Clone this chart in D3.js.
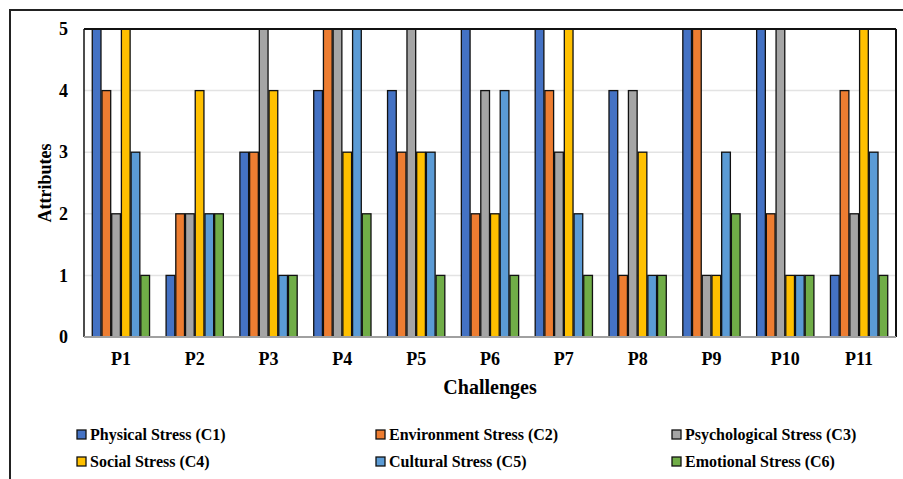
<!DOCTYPE html>
<html><head><meta charset="utf-8">
<script src="https://cdn.jsdelivr.net/npm/d3@7"></script>
<style>body{margin:0;background:#fff}svg{display:block}text{font-family:"Liberation Serif","Times New Roman","DejaVu Serif",serif;font-weight:bold;fill:#000}</style>
</head><body><svg id="c" width="903" height="479"></svg>
<script>
const categories = ["P1","P2","P3","P4","P5","P6","P7","P8","P9","P10","P11"];
const seriesNames = ["Physical Stress (C1)","Environment Stress (C2)","Psychological Stress (C3)","Social Stress (C4)","Cultural Stress (C5)","Emotional Stress (C6)"];
const seriesColors = ["#4472C4","#ED7D31","#A5A5A5","#FFC000","#5B9BD5","#70AD47"];
const c1 = [5,1,3,4,4,5,5,4,5,5,1];
const c2 = [4,2,3,5,3,2,4,1,5,2,4];
const c3 = [2,2,5,5,5,4,3,4,1,5,2];
const c4 = [5,4,4,3,3,2,5,3,1,1,5];
const c5 = [3,2,1,5,3,4,2,1,3,1,3];
const c6 = [1,2,1,2,1,1,1,1,2,1,1];
const yTicks = [0,1,2,3,4,5];
const seriesValues = [c1,c2,c3,c4,c5,c6];
const FONT = '"Liberation Serif","Times New Roman","DejaVu Serif",serif';

const svg = d3.select("#c");
const L=84, R=896, T=29, B=337;
svg.append("rect").attr("x",10).attr("y",10).attr("width",1000).attr("height",1000)
  .attr("fill","none").attr("stroke","#222").attr("stroke-width",2);

const x0 = d3.scaleBand().domain(categories).range([L,R]).padding(0);
const x1 = d3.scaleBand().domain(d3.range(6)).range([0,x0.bandwidth()]).paddingInner(0).paddingOuter(0.8);
const y = d3.scaleLinear().domain([0,5]).range([B,T]);

svg.append("g").selectAll("line").data(yTicks.filter(d=>d>0&&d<5)).join("line")
  .attr("x1",L).attr("x2",R).attr("y1",d=>y(d)).attr("y2",d=>y(d))
  .attr("stroke","#e3e3e3").attr("stroke-width",1.5);

const g = svg.append("g");
categories.forEach((cat,i)=>{
  seriesValues.forEach((vals,s)=>{
    g.append("rect")
      .attr("x",x0(cat)+x1(s)+0.5).attr("y",y(vals[i]))
      .attr("width",x1.bandwidth()-1).attr("height",B-y(vals[i]))
      .attr("fill",seriesColors[s]).attr("stroke","#111").attr("stroke-width",1.3);
  });
});

svg.append("line").attr("x1",L).attr("x2",R).attr("y1",T).attr("y2",T).attr("stroke","#111").attr("stroke-width",2);
svg.append("line").attr("x1",L).attr("x2",L).attr("y1",T).attr("y2",B).attr("stroke","#111").attr("stroke-width",1.5);
svg.append("line").attr("x1",R).attr("x2",R).attr("y1",T).attr("y2",B).attr("stroke","#111").attr("stroke-width",2);
svg.append("line").attr("x1",L).attr("x2",R).attr("y1",B).attr("y2",B).attr("stroke","#a0a0a0").attr("stroke-width",2);

const yAxis = d3.axisLeft(y).tickValues(yTicks).tickSize(0).tickPadding(0).tickFormat(d3.format("d"));
const ya = svg.append("g").attr("transform",`translate(${L-16},0)`).call(yAxis);
ya.select(".domain").remove();
ya.attr("font-family",null).attr("font-size",null);
ya.selectAll("text").style("font-family",FONT).style("font-weight","bold").style("font-size","18px").attr("fill","#000");

const xAxis = d3.axisBottom(x0).tickSize(0).tickPadding(0);
const xa = svg.append("g").attr("transform",`translate(0,${B+15})`).call(xAxis);
xa.select(".domain").remove();
xa.attr("font-family",null).attr("font-size",null);
xa.selectAll("text").style("font-family",FONT).style("font-weight","bold").style("font-size","18px").attr("fill","#000");

svg.append("text").attr("x",490).attr("y",394).attr("text-anchor","middle").style("font-size","20px").text("Challenges");
svg.append("text").attr("transform","translate(51,183) rotate(-90)").attr("text-anchor","middle").style("font-size","18px").text("Attributes");

const legX = [77,376,672], legY = [435,462];
seriesNames.forEach((n,i)=>{
  const cx = legX[i%3], cy = legY[Math.floor(i/3)];
  svg.append("rect").attr("x",cx).attr("y",cy-5).attr("width",9).attr("height",9)
    .attr("fill",seriesColors[i]).attr("stroke","#111").attr("stroke-width",1.3);
  svg.append("text").attr("x",cx+13).attr("y",cy+5).style("font-size","16px").text(n);
});
</script></body></html>
